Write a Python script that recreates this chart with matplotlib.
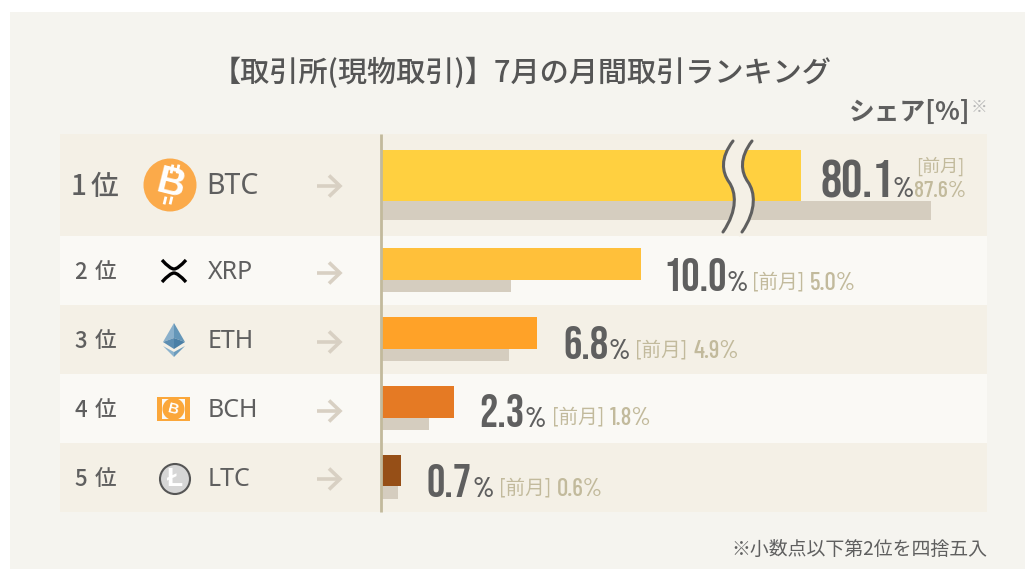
import matplotlib
matplotlib.use("Agg")
import matplotlib.pyplot as plt
from matplotlib.patches import Circle, PathPatch, Polygon, Rectangle
from matplotlib.path import Path

W, H = 1025, 569

rank_nums = ["1", "2", "3", "4", "5"]
coins = ["BTC", "XRP", "ETH", "BCH", "LTC"]
share_labels = ["80.1", "10.0", "6.8", "2.3", "0.7"]
prev_labels = ["87.6%", "5.0%", "4.9%", "1.8%", "0.6%"]

# bar lengths as drawn in the picture (the BTC bars are cut by the break mark)
share_drawn = [16.2, 10.0, 6.0, 2.78, 0.74]
prev_drawn = [21.25, 5.0, 4.92, 1.82, 0.62]
bar_colors = ["#FFD040", "#FFC03A", "#FFA228", "#E57A24", "#964F17"]

row_edges = [134, 236, 305, 374, 443, 512]
row_colors = ["#F4F0E6", "#FAF9F5", "#F4F0E6", "#FAF9F5", "#F4F0E6"]
cur_top = [150, 248, 317, 386, 455]
cur_bot = [201, 280, 349, 418, 486]
prev_bot = [220, 292, 361, 430, 499]

plt.rcParams['font.family'] = ['Noto Sans CJK JP', 'DejaVu Sans']
NUMS = ['Bebas Neue', 'Barlow Condensed', 'DejaVu Sans']
NARROW = ['Barlow Condensed', 'Liberation Sans', 'DejaVu Sans']
GREY = "#5F5F5F"
TAN = "#C2BA9C"
ARROW = "#D8D0C3"

fig = plt.figure(figsize=(W / 100, H / 100), dpi=100, facecolor="white")


def page_axes():
    a = fig.add_axes([0, 0, 1, 1])
    a.set_xlim(0, W)
    a.set_ylim(H, 0)
    a.axis("off")
    return a


# background in page pixels
bg = page_axes()
bg.add_patch(Rectangle((10, 12), W - 10, H - 12, fc="#F5F4EF", ec="none"))
for i in range(5):
    bg.add_patch(Rectangle((60, row_edges[i]), 927, row_edges[i + 1] - row_edges[i],
                           fc=row_colors[i], ec="none"))

# bars, x in share units, y in page pixels
bar_ax = fig.add_axes([382 / W, 0, (W - 382) / W, 1])
bar_ax.set_xlim(0, (W - 382) / 25.85)
bar_ax.set_ylim(H, 0)
bar_ax.axis("off")
for i in range(5):
    bar_ax.barh(cur_bot[i], prev_drawn[i], height=prev_bot[i] - cur_bot[i], align="edge",
                color="#D5CDBF", linewidth=0)
    bar_ax.barh(cur_top[i], share_drawn[i], height=cur_bot[i] - cur_top[i], align="edge",
                color=bar_colors[i], linewidth=0)

# everything else goes on top of the bars
ax = page_axes()
ax.plot([381, 381], [134, 512], color="#C2BA9C", lw=2, solid_capstyle="butt")

ax.text(522, 73, "【取引所(現物取引)】7月の月間取引ランキング", ha="center", va="center",
        fontsize=21, color="#555555", fontweight="medium")
ax.text(970, 112, "シェア[%]", ha="right", va="center", fontsize=18.5, color=GREY,
        fontweight="bold")
ax.text(971, 107, "※", ha="left", va="center", fontsize=12, color="#B5B5B5")
ax.text(987, 549, "※小数点以下第2位を四捨五入", ha="right", va="center", fontsize=13.6, color=GREY)

# row labels, arrows
row_mid = [185, 271, 340, 409, 478]
arrow_y = [186, 273, 342, 411, 479]
for i in range(5):
    y = row_mid[i]
    ax.text(79 if i == 0 else 81, y + 1, rank_nums[i], ha="center", va="center",
            fontsize=20 if i == 0 else 16, color=GREY, fontweight="medium")
    ax.text(104.5 if i == 0 else 105, y + 1, "位", ha="center", va="center",
            fontsize=20 if i == 0 else 15.5, color=GREY, fontweight="medium")
    ax.text(206 if i == 0 else 208, y + 1, coins[i], ha="left", va="center",
            family="Noto Sans", fontweight="medium", fontsize=20.5 if i == 0 else 18, color=GREY)
    ay = arrow_y[i]
    ax.plot([317, 339], [ay, ay], color=ARROW, lw=2.6, solid_capstyle="butt")
    ax.plot([329, 340, 329], [ay - 10.5, ay, ay + 10.5], color=ARROW, lw=2.6,
            solid_joinstyle="miter", solid_capstyle="butt")

# coin icons
ax.add_patch(Circle((170, 185), 26.5, fc="#FBAA4A", ec="none"))
ax.text(170, 185, "B", ha="center", va="center", rotation=-14, color="white",
        family="Liberation Sans", fontweight="bold", fontsize=28)
for tx, bx in ((172, 165), (178, 171)):
    ax.plot([tx + 0.6, tx - 0.6], [166, 172], color="white", lw=2)
    ax.plot([bx + 0.6, bx - 0.6], [198, 203], color="white", lw=2)

xrp_top = Path([(162, 260), (170, 269), (174, 269), (178, 269), (186, 260)],
               [Path.MOVETO, Path.CURVE3, Path.CURVE3, Path.CURVE3, Path.CURVE3])
xrp_bot = Path([(162, 282), (170, 273), (174, 273), (178, 273), (186, 282)],
               [Path.MOVETO, Path.CURVE3, Path.CURVE3, Path.CURVE3, Path.CURVE3])
for p in (xrp_top, xrp_bot):
    ax.add_patch(PathPatch(p, fc="none", ec="black", lw=2.4))

ax.add_patch(Polygon([(174, 323), (163, 342), (174, 338)], fc="#8AB0CB", ec="none"))
ax.add_patch(Polygon([(174, 323), (185, 342), (174, 338)], fc="#6496B8", ec="none"))
ax.add_patch(Polygon([(163, 342), (174, 349), (174, 338)], fc="#5C8DB1", ec="none"))
ax.add_patch(Polygon([(185, 342), (174, 349), (174, 338)], fc="#4A7FA6", ec="none"))
ax.add_patch(Polygon([(163, 346), (174, 357), (174, 352)], fc="#8CB3CD", ec="none"))
ax.add_patch(Polygon([(185, 346), (174, 357), (174, 352)], fc="#6C9CBD", ec="none"))

ax.add_patch(Rectangle((157, 397), 33, 24, fc="#FBA73A", ec="none"))
ax.add_patch(Rectangle((162, 399), 23, 20, fc="#FAF9F5", ec="none"))
ax.add_patch(Circle((173.5, 409), 11, fc="#FBA73A", ec="none"))
ax.text(173.5, 409, "B", ha="center", va="center", rotation=-14, color="white",
        family="Liberation Sans", fontweight="bold", fontsize=11)

ax.add_patch(Circle((175, 479), 15, fc="#D6D6D6", ec="#555555", lw=1.5))
ax.text(175, 479, "Ł", ha="center", va="center", color="white",
        family="Liberation Sans", fontweight="bold", fontsize=19)

# share numbers
num_x = [820, 663, 563, 479, 426]
pct_x = [892, 727, 609, 525, 472]
num_base = [197, 291, 359, 427, 497]
for i in range(5):
    ax.text(num_x[i], num_base[i], share_labels[i], ha="left", va="baseline", family=NUMS,
            fontsize=38 if i == 0 else 33, color=GREY)
    ax.text(pct_x[i], num_base[i], "%", ha="left", va="baseline", family=NARROW,
            fontweight=600, fontsize=20, color=GREY)

# previous month labels
ax.text(940, 166, "[前月]", ha="center", va="center", fontsize=13, color=TAN)
ax.text(940, 197, prev_labels[0], ha="center", va="baseline", family=NARROW,
        fontweight=500, fontsize=17, color=TAN)
prev_x = [None, 752, 635, 552, 499]
prev_base = [None, 290, 358, 425, 496]
for i in range(1, 5):
    ax.text(prev_x[i], prev_base[i] - 8, "[前月]", ha="left", va="center", fontsize=14, color=TAN)
    ax.text(prev_x[i] + 58, prev_base[i], prev_labels[i], ha="left", va="baseline",
            family=NARROW, fontweight=500, fontsize=18, color=TAN)


# axis break on the BTC bars
def break_path(dx):
    return Path([(733 + dx, 141), (720 + dx, 158), (722 + dx, 172), (729 + dx, 182),
                 (736 + dx, 192), (738 + dx, 210), (723 + dx, 232)],
                [Path.MOVETO, Path.CURVE4, Path.CURVE4, Path.CURVE4, Path.CURVE4,
                 Path.CURVE4, Path.CURVE4])


ax.add_patch(PathPatch(break_path(9.5), fc="none", ec="#F4F0E6", lw=13, capstyle="butt"))
for dx in (0, 19):
    ax.add_patch(PathPatch(break_path(dx), fc="none", ec=GREY, lw=2.2, capstyle="round"))

fig.savefig("out.png", dpi=100)
